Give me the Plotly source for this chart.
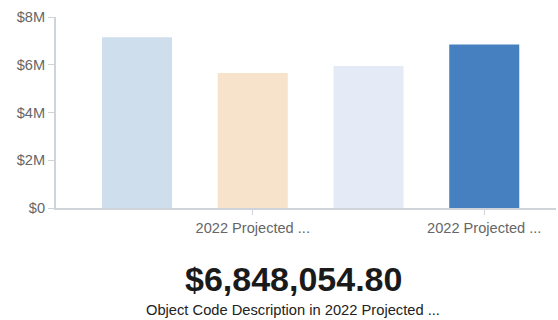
import plotly.graph_objects as go

# Projected spend by object code (USD)
categories = ["Object Code A", "Object Code B", "Object Code C", "Object Code D"]
values = [7150000, 5650000, 5950000, 6848054.80]
bar_colors = ["#cfdeed", "#f7e3cb", "#e4eaf6", "#4680c0"]
tick_positions = [1, 3]
tick_labels = ["2022 Projected ...", "2022 Projected ..."]
y_ticks = [0, 2e6, 4e6, 6e6, 8e6]
y_tick_labels = ["$0", "$2M", "$4M", "$6M", "$8M"]

highlight = values[-1]

fig = go.Figure(
    go.Bar(
        x=list(range(len(categories))),
        y=values,
        width=0.605,
        marker=dict(color=bar_colors, line=dict(width=0)),
        hovertext=categories,
    )
)

axis_font = dict(family="Liberation Sans, Arial, sans-serif", size=14.6, color="#666666")

fig.update_layout(
    width=558,
    height=320,
    margin=dict(l=56, r=2, t=17, b=112),
    paper_bgcolor="white",
    plot_bgcolor="white",
    showlegend=False,
    xaxis=dict(
        range=[-0.70, 3.62],
        tickvals=tick_positions,
        ticktext=tick_labels,
        ticks="outside",
        ticklen=5,
        tickcolor="#cfd4da",
        showline=True,
        linecolor="#cfd4da",
        linewidth=2,
        showgrid=False,
        zeroline=False,
        tickfont=axis_font,
    ),
    yaxis=dict(
        range=[0, 8e6],
        tickvals=y_ticks,
        ticktext=y_tick_labels,
        ticks="outside",
        ticklen=6,
        tickcolor="#cfd4da",
        showline=True,
        linecolor="#cfd4da",
        linewidth=2,
        showgrid=False,
        zeroline=False,
        tickfont=axis_font,
    ),
    annotations=[
        dict(
            text=f"<b>${highlight:,.2f}</b>",
            xref="paper", yref="paper",
            x=(293 - 56) / 500, y=-(279 - 208) / 191,
            xanchor="center", yanchor="middle",
            showarrow=False,
            font=dict(family="Liberation Sans, Arial, sans-serif", size=34, color="#1a1a1a"),
        ),
        dict(
            text="Object Code Description in 2022 Projected ...",
            xref="paper", yref="paper",
            x=(293 - 56) / 500, y=-(310 - 208) / 191,
            xanchor="center", yanchor="middle",
            showarrow=False,
            font=dict(family="Liberation Sans, Arial, sans-serif", size=14.7, color="#222222"),
        ),
    ],
)

fig.write_html("out.html")
